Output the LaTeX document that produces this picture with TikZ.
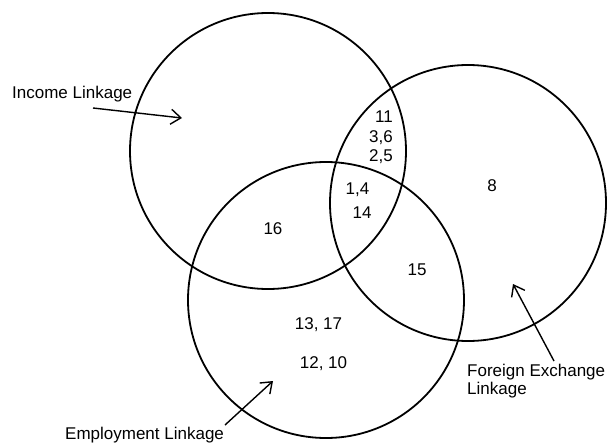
\documentclass[tikz,border=0pt]{standalone}
\usepackage{fontspec}
\setmainfont{Liberation Sans}
\usetikzlibrary{arrows.meta}
\begin{document}
\begin{tikzpicture}[x=1pt,y=-1pt,
  venn/.style={circle, draw, line width=1.8pt, minimum size=276pt, inner sep=0pt},
  lab/.style={inner sep=0pt, font=\fontsize{17}{18}\selectfont},
  arr/.style={line width=1.4pt, -{Straight Barb[length=10pt,width=15pt,line width=1.4pt]}}]
\useasboundingbox (0,0) rectangle (608,442);
% circles
\node[venn] (inc) at (268,151) {};
\node[venn] (fx)  at (468,203) {};
\node[venn] (emp) at (326,300) {};
% labels
\node[lab, anchor=base west] (incLab) at (12,98) {Income Linkage};
\node[lab, anchor=base west] (empLab) at (65,439) {Employment Linkage};
\node[lab, anchor=base west] (fxLab1) at (467,376) {Foreign Exchange};
\node[lab, anchor=base west] (fxLab2) at (467,394.5) {Linkage};
% arrows
\coordinate (incTail) at (93,108);
\coordinate (incTip) at (182,118);
\coordinate (empTail) at (225,425);
\coordinate (empTip) at (273,381);
\coordinate (fxTail) at (554,361);
\coordinate (fxTip) at (513,284);
\draw[arr] (incTail) -- (incTip);
\draw[arr] (empTail) -- (empTip);
\draw[arr] (fxTail) -- (fxTip);
% region numbers
\node[lab, anchor=base east] (n11) at (393,122) {11};
\node[lab, anchor=base east] (n36) at (393,142) {3,6};
\node[lab, anchor=base east] (n25) at (393,161) {2,5};
\node[lab, anchor=base] (n14a) at (357.5,194) {1,4};
\node[lab, anchor=base] (n14b) at (362,218) {14};
\node[lab, anchor=base] (n8) at (492,191) {8};
\node[lab, anchor=base] (n16) at (273,234) {16};
\node[lab, anchor=base] (n15) at (417,275) {15};
\node[lab, anchor=base] (n1317) at (318.5,329) {13, 17};
\node[lab, anchor=base] (n1210) at (323.5,368) {12, 10};
\end{tikzpicture}
\end{document}
